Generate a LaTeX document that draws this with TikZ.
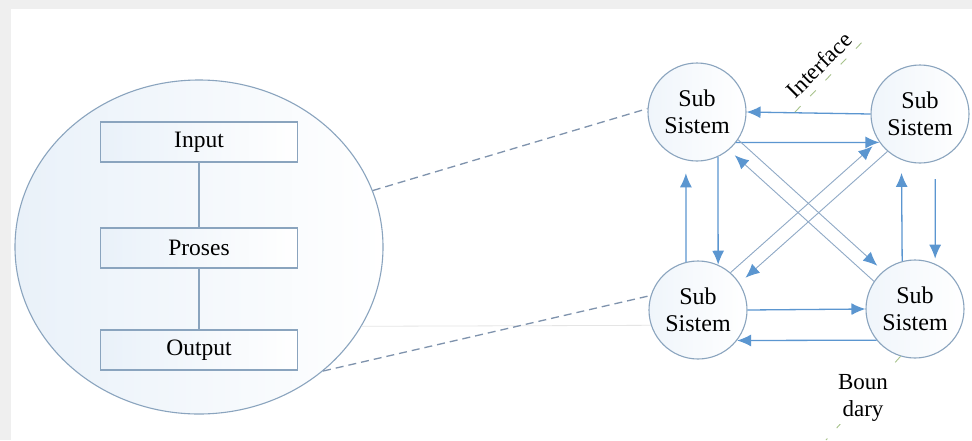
\documentclass[tikz,border=0pt]{standalone}
\usepackage{fontspec}
\setmainfont{Liberation Serif}
\usetikzlibrary{arrows.meta,shapes.geometric}
\definecolor{sysblue}{HTML}{5B96D0}
\definecolor{sysedge}{HTML}{8AA4BE}
\definecolor{sysfill}{HTML}{E9F1F9}
\definecolor{sysdiag}{HTML}{8FA9C6}
\definecolor{sysdash}{HTML}{7F93AD}
\definecolor{sysgreen}{HTML}{A8C38C}
\definecolor{sysgray}{HTML}{EFEFEF}

\begin{document}
\begin{tikzpicture}[x=1pt, y=-1pt,
    zoomed/.style={ellipse, draw=sysedge, line width=1.1pt, left color=sysfill, right color=white,
                   minimum width=368pt, minimum height=334pt, inner sep=0pt},
    part/.style={draw=sysedge, line width=1.1pt, left color=sysfill, right color=white,
                 minimum width=197pt, minimum height=40pt, inner sep=0pt,
                 font=\fontsize{23.5}{27}\selectfont},
    sub/.style={circle, draw=sysedge, line width=1.1pt, left color=sysfill!70, right color=white,
                minimum size=98pt, inner sep=0pt, align=center, font=\fontsize{24}{27}\selectfont},
    link/.style={draw=sysedge, line width=1.1pt},
    flow/.style={-{Latex[length=14pt,width=12pt]}, draw=sysblue, line width=1.3pt},
    diag/.style={-{Latex[length=14pt,width=12pt,color=sysblue]}, draw=sysdiag,
                 line width=0.9pt, shorten >=8pt},
    zoomline/.style={draw=sysdash, line width=1.3pt, dash pattern=on 8pt off 5pt},
    faint/.style={draw=black!10, line width=0.8pt},
    bound/.style={draw=sysgreen, line width=0.9pt, dash pattern=on 8pt off 14pt},
    tag/.style={inner sep=2pt, font=\fontsize{23}{27}\selectfont}
  ]
    \fill[sysgray] (0,0) rectangle (972,440);
    \fill[white] (11,9) rectangle (972,440);
    \useasboundingbox (0,0) rectangle (972,440);

    % system, zoomed in
    \node[zoomed] (sys) at (199,247) {};
    \node[part] (inp) at (199,142) {Input};
    \node[part] (pro) at (199,248) {Proses};
    \node[part] (out) at (199,350) {Output};
    \draw[link] (inp) -- (pro);
    \draw[link] (pro) -- (out);

    % sub systems
    \node[sub] (tl) at (697,112) {Sub\\Sistem};
    \node[sub] (tr) at (920,114) {Sub\\Sistem};
    \node[sub] (bl) at (698,310) {Sub\\Sistem};
    \node[sub] (br) at (915,309) {Sub\\Sistem};

    \draw[faint] (sys.-26) -- (bl.198);
    \draw[zoomline] (sys.18) -- (tl.176);
    \draw[zoomline] (sys.-45) -- (bl.163);

    \foreach \a/\b in {tr.180/tl.0, tl.-38/tr.-145, tl.-65/bl.66, bl.0/br.180, br.-141/bl.-38}
      \draw[flow] (\a) -- (\b);
    \draw[flow, shorten >=13pt] (bl.104) -- (tl.-103);
    \draw[flow, shorten >=13pt] (br.105) -- (tr.-112);
    \draw[flow, shorten <=18pt, shorten >=5pt] (tr.-72) -- (br.66);

    \foreach \a/\b in {tl.-34/br.130, br.146/tl.-50, bl.49/tr.213, tr.229/bl.33}
      \draw[diag] (\a) -- (\b);

    % interface and boundary
    \coordinate (ifa) at (795,112);
    \coordinate (ifb) at (868,36);
    \draw[bound] (ifa) -- (ifb);
    \node[tag, fill=white, rotate=45] (ifl) at (819,65) {Interface};

    \coordinate (bdy) at (826,440);
    \draw[bound] (br.-107) -- (bdy);
    \node[tag, fill=white, align=center] (bdl) at (863,398) {Boun\\dary};
\end{tikzpicture}
\end{document}
